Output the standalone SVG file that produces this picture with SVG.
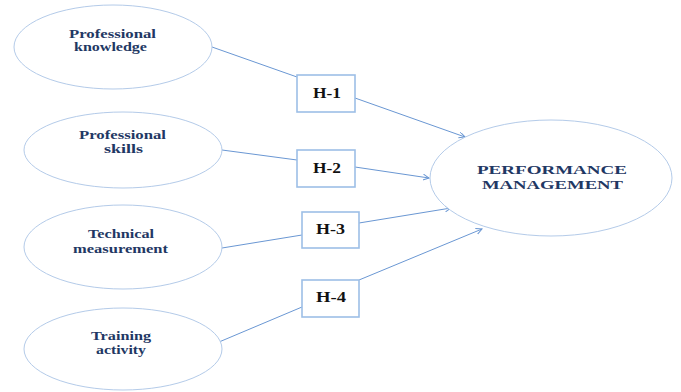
<svg xmlns="http://www.w3.org/2000/svg" width="681" height="392" viewBox="0 0 681 392">
<style>
.bg{fill:#ffffff}
.ell{fill:#ffffff;stroke:#b4cbe9;stroke-width:1}
.box{fill:#ffffff;stroke:#9dbfe6;stroke-width:1.6}
.con{fill:none;stroke:#6a97d3;stroke-width:1}
.lbl{font-family:"Liberation Serif","Times New Roman",serif;font-weight:bold;font-size:12px;fill:#1f3864}
.big{font-family:"Liberation Serif","Times New Roman",serif;font-weight:bold;font-size:13px;fill:#1f3864}
.h{font-family:"Liberation Serif","Times New Roman",serif;font-weight:bold;font-size:14px;fill:#111111}
</style>
<defs>
<marker id="arr" markerWidth="8" markerHeight="8" refX="6" refY="3" orient="auto" markerUnits="userSpaceOnUse">
<path d="M0,0 L6,3 L0,6" fill="none" stroke="#6a97d3" stroke-width="1"/>
</marker>
</defs>
<rect class="bg" x="0" y="0" width="681" height="392"/>
<g id="connectors">
<line class="con" x1="212" y1="47" x2="297" y2="77"/>
<line class="con" x1="355" y1="98" x2="465" y2="137" marker-end="url(#arr)"/>
<line class="con" x1="222" y1="150" x2="297" y2="160"/>
<line class="con" x1="355" y1="167" x2="429" y2="178" marker-end="url(#arr)"/>
<line class="con" x1="222" y1="248" x2="302" y2="235"/>
<line class="con" x1="359" y1="223" x2="451" y2="208" marker-end="url(#arr)"/>
<line class="con" x1="219" y1="342" x2="302" y2="307"/>
<line class="con" x1="359" y1="280" x2="482" y2="229" marker-end="url(#arr)"/>
</g>
<g id="professional-knowledge">
<ellipse class="ell" cx="113" cy="47" rx="99" ry="42"/>
<text class="lbl" x="69" y="38" textLength="87" lengthAdjust="spacingAndGlyphs">Professional</text>
<text class="lbl" x="74" y="51" textLength="73" lengthAdjust="spacingAndGlyphs">knowledge</text>
</g>
<g id="professional-skills">
<ellipse class="ell" cx="123" cy="150" rx="99" ry="38"/>
<text class="lbl" x="79" y="139" textLength="87" lengthAdjust="spacingAndGlyphs">Professional</text>
<text class="lbl" x="104" y="153" textLength="39" lengthAdjust="spacingAndGlyphs">skills</text>
</g>
<g id="technical-measurement">
<ellipse class="ell" cx="123" cy="247" rx="99" ry="42"/>
<text class="lbl" x="88" y="238" textLength="66" lengthAdjust="spacingAndGlyphs">Technical</text>
<text class="lbl" x="73" y="253" textLength="95" lengthAdjust="spacingAndGlyphs">measurement</text>
</g>
<g id="training-activity">
<ellipse class="ell" cx="123" cy="349" rx="99" ry="41"/>
<text class="lbl" x="91" y="340" textLength="60" lengthAdjust="spacingAndGlyphs">Training</text>
<text class="lbl" x="96" y="354" textLength="50" lengthAdjust="spacingAndGlyphs">activity</text>
</g>
<g id="h1">
<rect class="box" x="297" y="75" width="58" height="37"/>
<text class="h" x="313" y="98" textLength="28" lengthAdjust="spacingAndGlyphs">H-1</text>
</g>
<g id="h2">
<rect class="box" x="297" y="150" width="58" height="37"/>
<text class="h" x="313" y="173" textLength="28" lengthAdjust="spacingAndGlyphs">H-2</text>
</g>
<g id="h3">
<rect class="box" x="302" y="212" width="57" height="36"/>
<text class="h" x="316" y="234" textLength="29" lengthAdjust="spacingAndGlyphs">H-3</text>
</g>
<g id="h4">
<rect class="box" x="302" y="280" width="57" height="37"/>
<text class="h" x="316" y="302" textLength="30" lengthAdjust="spacingAndGlyphs">H-4</text>
</g>
<g id="performance-management">
<ellipse class="ell" cx="551" cy="178" rx="121" ry="58"/>
<text class="big" x="477" y="174" textLength="150" lengthAdjust="spacingAndGlyphs">PERFORMANCE</text>
<text class="big" x="482" y="189" textLength="141" lengthAdjust="spacingAndGlyphs">MANAGEMENT</text>
</g>
</svg>
